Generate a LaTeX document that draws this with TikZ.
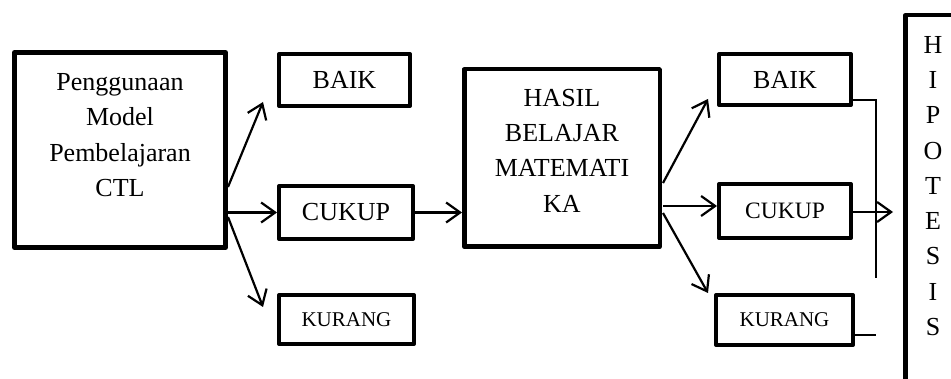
\documentclass[tikz,border=0pt]{standalone}
\usepackage{fontspec}
\setmainfont{Liberation Serif}
\usetikzlibrary{arrows.meta}
\begin{document}
\begin{tikzpicture}[x=1pt,y=-1pt,
 box/.style={draw, line width=4pt, line join=round, inner sep=0pt, align=center},
 big/.style={box, line width=5pt},
 txt/.style={align=center, inner sep=0pt, font=\fontsize{26}{35.3}\selectfont},
 lab/.style={font=\fontsize{26}{30}\selectfont},
 labm/.style={font=\fontsize{23.5}{28}\selectfont},
 small/.style={font=\fontsize{21}{25}\selectfont},
 arr/.style={line width=2.2pt, -{Straight Barb[length=14pt,width=20pt]}},
 thinline/.style={line width=1.3pt}]
\useasboundingbox (0,0) rectangle (951,379);
% boxes
\node[big, minimum width=211pt, minimum height=195pt] (b1) at (120,150) {};
\node[txt] (b1t) at (120,135) {Penggunaan\\Model\\Pembelajaran\\CTL};
\node[box, lab, minimum width=131pt, minimum height=52pt] (baik1) at (344.5,80) {BAIK};
\node[box, lab, minimum width=134pt, minimum height=53pt] (cukup1) at (346,212.5) {CUKUP};
\node[box, small, minimum width=135pt, minimum height=49pt] (kurang1) at (346.5,319.5) {KURANG};
\node[box, line width=4.5pt, minimum width=195.5pt, minimum height=177.5pt] (hasil) at (562,158) {};
\node[txt] (hasilt) at (562,150.5) {HASIL\\BELAJAR\\MATEMATI\\KA};
\node[box, lab, minimum width=132pt, minimum height=51pt] (baik2) at (785,79.5) {BAIK};
\node[box, labm, minimum width=132pt, minimum height=54pt] (cukup2) at (785,211) {CUKUP};
\node[box, small, minimum width=137pt, minimum height=50pt] (kurang2) at (784.5,320) {KURANG};
\node[box, line width=4.5pt, minimum width=55.5pt, minimum height=370.5pt] (hip) at (933,200.5) {};
\node[txt] (hipt) at (933,186) {H\\I\\P\\O\\T\\E\\S\\I\\S};
% coordinates
\coordinate (s1) at (228,187);
\coordinate (e1) at (263,102);
\coordinate (s3) at (228,217);
\coordinate (e3) at (263,307);
\coordinate (s4) at (663,183);
\coordinate (e4) at (708,99);
\coordinate (s5) at (663,206);
\coordinate (s6) at (663,213);
\coordinate (e6) at (708,293);
\coordinate (j1) at (876,100);
\coordinate (j2) at (876,278);
\coordinate (j3) at (876,335);
\coordinate (h1) at (893,212);
% arrows left
\draw[arr] (s1) -- (e1);
\draw[arr] (b1.east |- cukup1.west) -- (cukup1.west);
\draw[arr] (s3) -- (e3);
\draw[arr] (cukup1.east) -- (cukup1.east -| hasil.west);
% arrows right
\draw[arr] (s4) -- (e4);
\draw[arr] (s5) -- (cukup2.west |- s5);
\draw[arr] (s6) -- (e6);
% connectors to hipotesis
\draw[thinline] (baik2.east |- j1) -- (j1) -- (j2);
\draw[thinline] (kurang2.east |- j3) -- (j3);
\draw[arr] (cukup2.east |- h1) -- (h1);
\end{tikzpicture}
\end{document}
